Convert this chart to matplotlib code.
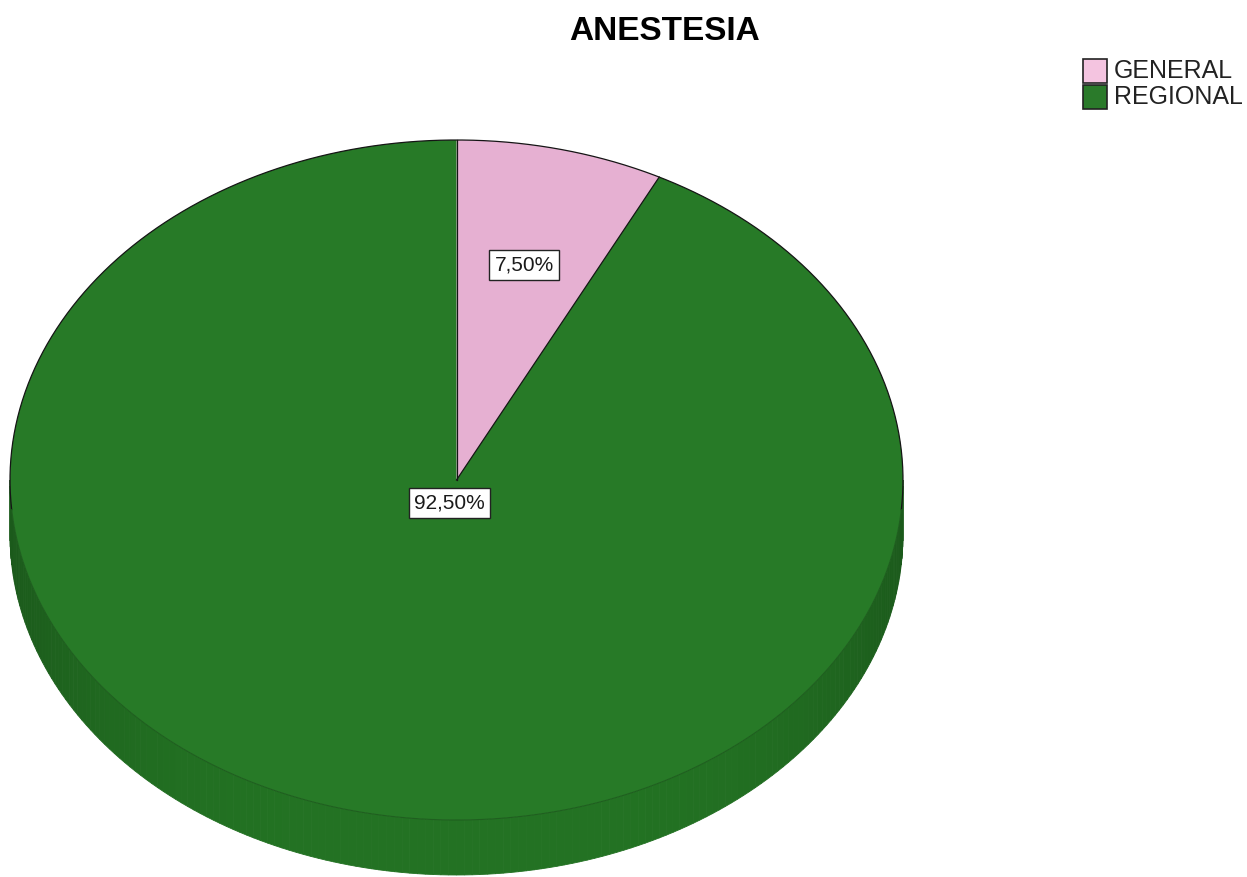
import numpy as np
import matplotlib
matplotlib.use("Agg")
import matplotlib.pyplot as plt
from matplotlib.patches import Polygon, Rectangle

# Data
categories = ["GENERAL", "REGIONAL"]
percentages = [7.5, 92.5]
slice_colors = ["#e6b0d2", "#277a27"]
legend_colors = ["#f4c4e0", "#2a7a2a"]
side_color = np.array([0x22, 0x70, 0x22]) / 255.0
title = "ANESTESIA"

plt.rcParams["font.family"] = ["Liberation Sans", "DejaVu Sans"]

W, H = 1247, 877
fig = plt.figure(figsize=(W / 100, H / 100), dpi=100)
ax = fig.add_axes([0, 0, 1, 1])
ax.set_xlim(0, W)
ax.set_ylim(H, 0)
ax.axis("off")

# Pie geometry (pixel space, y grows downwards)
cx, cy = 456.5, 480.0
rx, ry = 446.5, 340.0
depth = 55.0


def pt(theta_deg, r=1.0, dz=0.0):
    t = np.radians(theta_deg)
    return cx + r * rx * np.sin(t), cy - r * ry * np.cos(t) + dz


# Side wall of the front half, drawn in thin shaded strips
n = 180
thetas = np.linspace(90, 270, n + 1)
for a0, a1 in zip(thetas[:-1], thetas[1:]):
    am = np.radians(0.5 * (a0 + a1))
    shade = 1.02 - 0.22 * abs(np.sin(am)) ** 4
    col = np.clip(side_color * shade, 0, 1)
    x0, y0 = pt(a0)
    x1, y1 = pt(a1)
    quad = [(x0, y0), (x1, y1), (x1, y1 + depth), (x0, y0 + depth)]
    ax.add_patch(Polygon(quad, closed=True, facecolor=col, edgecolor=col, lw=0.6, zorder=1))

# Top face wedges
total = sum(percentages)
start = 0.0
angles = []
for val, col in zip(percentages, slice_colors):
    span = 360.0 * val / total
    ts = np.linspace(start, start + span, 300)
    px, py = pt(ts)
    verts = [(cx, cy)] + list(zip(px, py))
    ax.add_patch(Polygon(verts, closed=True, facecolor=col, edgecolor="none", zorder=3))
    angles.append((start, span))
    start += span

# Top face outline: dark along the back, soft along the front rim
ts = np.linspace(-95, 95, 400)
px, py = pt(ts)
ax.plot(px, py, color="#151515", lw=0.9, zorder=4)
ts = np.linspace(95, 265, 400)
px, py = pt(ts)
ax.plot(px, py, color="#1f5f1f", lw=0.8, zorder=4)
for a0, span in angles:
    bx, by = pt(a0)
    ax.plot([cx, bx], [cy, by], color="#151515", lw=0.9, zorder=4)

# Value labels
label_r = [0.65, 0.07]
for (a0, span), val, r in zip(angles, percentages, label_r):
    lx, ly = pt(a0 + span / 2, r=r)
    txt = f"{val:.2f}%".replace(".", ",")
    ax.text(lx, ly, txt, ha="center", va="center", fontsize=15, color="#1a1a1a", zorder=6,
            bbox=dict(boxstyle="square,pad=0.25", facecolor="white", edgecolor="#222222", lw=1.0))

# Title
ax.text(665, 31, title, ha="center", va="center", fontsize=24, fontweight="bold", color="black")

# Legend
for i, (name, col) in enumerate(zip(categories, legend_colors)):
    y0 = 59 + i * 26
    ax.add_patch(Rectangle((1083, y0), 24, 24, facecolor=col, edgecolor="#222222", lw=1.2, zorder=5))
    ax.text(1114, y0 + 12.5, name, ha="left", va="center", fontsize=18, color="#222222")

fig.savefig("out.png", dpi=100)
